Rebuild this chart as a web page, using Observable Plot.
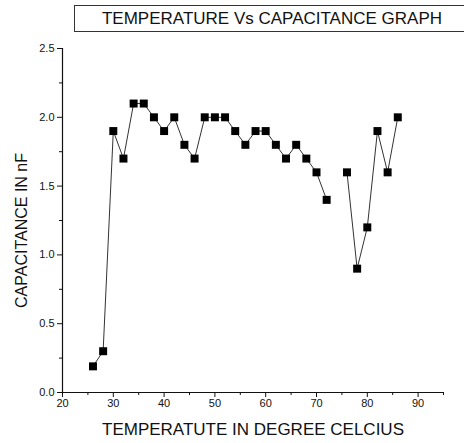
<!DOCTYPE html>
<html>
<head>
<meta charset="utf-8">
<script src="https://cdn.jsdelivr.net/npm/d3@7"></script>
<script src="https://cdn.jsdelivr.net/npm/@observablehq/plot@0.6"></script>
<style>
  body { margin: 0; background: #fff; font-family: "Liberation Sans", Arial, sans-serif; }
  #wrap { position: relative; width: 464px; height: 443px; overflow: hidden; }
  #title { position: absolute; left: 74px; top: 5px; width: 400px; height: 27px; border: 1px solid #333;
    box-sizing: border-box; font-size: 17px; line-height: 25px; color: #111; text-align: left; }
  #title span { display: inline-block; width: 394px; text-align: center; }
</style>
</head>
<body>
<div id="wrap">
  <div id="chart"></div>
  <div id="title"><span>TEMPERATURE Vs CAPACITANCE GRAPH</span></div>
</div>
<script>
const temperature = [26,28,30,32,34,36,38,40,42,44,46,48,50,52,54,56,58,60,62,64,66,68,70,72,74,76,78,80,82,84,86];
const capacitance = [0.19,0.3,1.9,1.7,2.1,2.1,2.0,1.9,2.0,1.8,1.7,2.0,2.0,2.0,1.9,1.8,1.9,1.9,1.8,1.7,1.8,1.7,1.6,1.4,null,1.6,0.9,1.2,1.9,1.6,2.0];
const xMajor = [20,30,40,50,60,70,80,90];
const xMinor = [25,35,45,55,65,75,85,95];
const yMajor = [0,0.5,1.0,1.5,2.0,2.5];
const yMinor = [0.25,0.75,1.25,1.75,2.25];
const titleText = "TEMPERATURE Vs CAPACITANCE GRAPH";
const xLabel = "TEMPERATUTE IN DEGREE CELCIUS";
const yLabel = "CAPACITANCE IN nF";

const data = temperature.map((t, i) => ({t, c: capacitance[i]}));
const pts = data.filter(d => d.c != null);

const chart = Plot.plot({
  width: 464,
  height: 443,
  marginLeft: 62,
  marginRight: 21,
  marginTop: 48,
  marginBottom: 51,
  style: {fontFamily: '"Liberation Sans", Arial, sans-serif', color: "#111", background: "#fff"},
  x: {domain: [20, 95]},
  y: {domain: [0, 2.5]},
  marks: [
    Plot.axisX({ticks: xMajor, tickSize: 5, tickPadding: 2, fontSize: 11, label: null, stroke: "#111"}),
    Plot.axisX({ticks: xMinor, tickSize: 3, tickFormat: () => "", label: null, stroke: "#111"}),
    Plot.axisY({ticks: yMajor, tickSize: 5, tickPadding: 3, fontSize: 11, tickFormat: d3.format(".1f"), label: null, stroke: "#111"}),
    Plot.axisY({ticks: yMinor, tickSize: 3, tickFormat: () => "", label: null, stroke: "#111"}),
    Plot.ruleY([0], {stroke: "#111", strokeWidth: 1.2}),
    Plot.ruleX([20], {stroke: "#111", strokeWidth: 1.2}),
    Plot.line(data, {x: "t", y: "c", stroke: "#333", strokeWidth: 1}),
    Plot.dot(pts, {x: "t", y: "c", symbol: "square", r: 4.5, fill: "#000", stroke: "none"}),
    Plot.text([xLabel], {frameAnchor: "bottom", dy: 42, fontSize: 17, fill: "#111", textAnchor: "middle"}),
    Plot.text([yLabel], {frameAnchor: "left", dx: -41, dy: 10, rotate: -90, fontSize: 16, fill: "#111", textAnchor: "middle"})
  ]
});
document.getElementById("chart").appendChild(chart);
document.querySelector("#title span").textContent = titleText;
</script>
</body>
</html>
